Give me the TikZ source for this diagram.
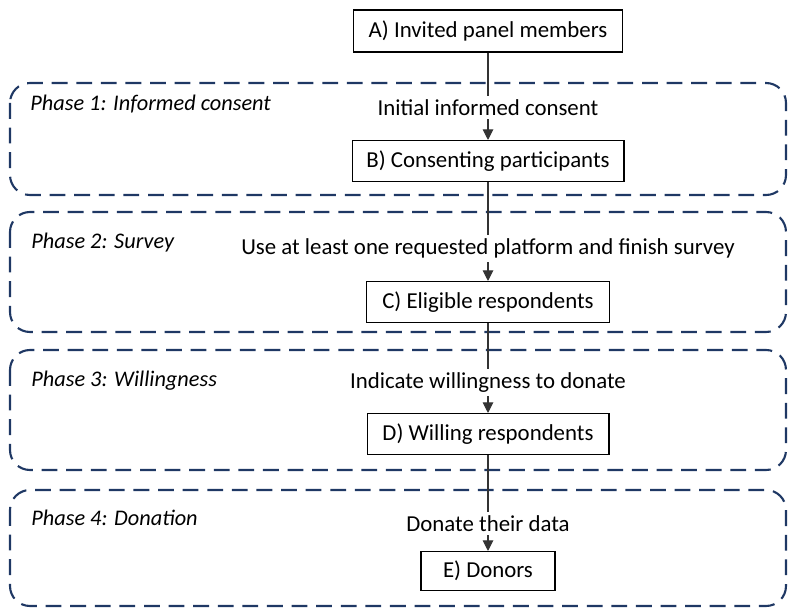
\documentclass[tikz,border=0pt]{standalone}
\usepackage{fontspec}
\setmainfont{Carlito}
\usetikzlibrary{arrows.meta,positioning,calc}
\definecolor{Phaseline}{HTML}{1F3864}
\tikzset{
flowbox/.style={draw=black, semithick, fill=white, align=center, inner sep=0pt},
phasebox/.style={draw=Phaseline, line width=1.2pt, dash pattern=on 9pt off 5pt, rounded corners=4mm},
phaselabel/.style={anchor=west, font=\fontsize{12.7}{15}\selectfont\itshape, inner sep=0pt},
flowarrow/.style={-{Triangle[width=6pt,length=6pt]}, draw=black!80, line width=0.6pt},
steplabel/.style={fill=white, inner sep=2pt}
}

\begin{document}
\begin{tikzpicture}[x=0.02cm, y=-0.02cm, font=\fontsize{13}{15}\selectfont]
  \useasboundingbox (0,0) rectangle (788,608);
  % phases
  \draw[phasebox] (10,83) rectangle (786,195);
  \draw[phasebox] (10,212) rectangle (786,332);
  \draw[phasebox] (10,350) rectangle (786,470);
  \draw[phasebox] (10,490) rectangle (786,606);
  \node[phaselabel] (p1) at (30,104) {Phase 1: Informed consent};
  \node[phaselabel] (p2) at (31,243) {Phase 2: Survey};
  \node[phaselabel] (p3) at (31,381) {Phase 3: Willingness};
  \node[phaselabel] (p4) at (31,518) {Phase 4: Donation};
  % flow
  \node[flowbox, minimum width=5.38cm, minimum height=0.84cm] (a) at (488,31) {A) Invited panel members};
  \node[flowbox, minimum width=5.44cm, minimum height=0.82cm] (b) at (488,161) {B) Consenting participants};
  \node[flowbox, minimum width=4.86cm, minimum height=0.82cm] (c) at (488,302) {C) Eligible respondents};
  \node[flowbox, minimum width=4.84cm, minimum height=0.82cm] (d) at (488,434) {D) Willing respondents};
  \node[flowbox, minimum width=2.68cm, minimum height=0.78cm] (e) at (488,571) {E) Donors};
  \draw[flowarrow] (a) -- node[steplabel, pos=0.63] (ab) {Initial informed consent} (b);
  \draw[flowarrow] (b) -- node[steplabel, pos=0.67] (bc) {Use at least one requested platform and finish survey} (c);
  \draw[flowarrow] (c) -- node[steplabel, pos=0.66] (cd) {Indicate willingness to donate} (d);
  \draw[flowarrow] (d) -- node[steplabel, pos=0.71] (de) {Donate their data} (e);
\end{tikzpicture}
\end{document}
